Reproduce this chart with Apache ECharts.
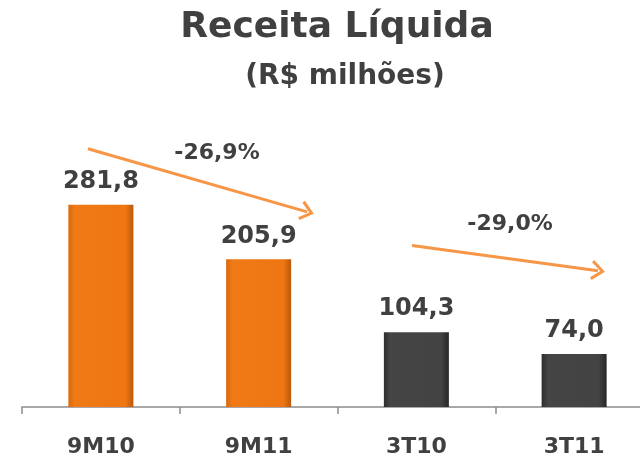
<!DOCTYPE html>
<html><head><meta charset="utf-8">
<script src="https://cdn.jsdelivr.net/npm/echarts@6/dist/echarts.min.js"></script>
<style>html,body{margin:0;padding:0;background:#fff;overflow:hidden}#c{width:660px;height:461px}</style>
</head><body><div id="c"></div>
<script>
var categories = ['9M10', '9M11', '3T10', '3T11'];
var values = [281.8, 205.9, 104.3, 74.0];
var valueLabels = ['281,8', '205,9', '104,3', '74,0'];
var barKinds = ['orange', 'orange', 'dark', 'dark'];
// change annotations: [startX, startY, endX, endY] in data units (x = category index)
var arrow1 = [-0.082, 360, 1.307, 272];
var arrow2 = [1.972, 225, 3.151, 190];
var changeLabels = ['-26,9%', '-29,0%'];
var changeLabelPos = [[0.736, 354], [2.594, 255]];

var FONT = 'DejaVu Sans';
var TXT = '#404040';

function grad(kind) {
  if (kind === 'orange') {
    return new echarts.graphic.LinearGradient(0, 0, 1, 0, [
      {offset: 0, color: '#d9680c'}, {offset: 0.1, color: '#f07a16'},
      {offset: 0.88, color: '#ef7612'}, {offset: 1, color: '#b85a0a'}]);
  }
  return new echarts.graphic.LinearGradient(0, 0, 1, 0, [
    {offset: 0, color: '#2e2e2e'}, {offset: 0.1, color: '#454545'},
    {offset: 0.88, color: '#434343'}, {offset: 1, color: '#262626'}]);
}

var arrowPath = 'path://M0,0 L10,13 L7.5,15 L0,5 L-7.5,15 L-10,13 Z';

function arrowLine(a) {
  return [{coord: [a[0], a[1]], symbol: 'none'}, {coord: [a[2], a[3]], symbol: arrowPath}];
}

var chart = echarts.init(document.getElementById('c'), null, {renderer: 'canvas'});
chart.setOption({
  animation: false,
  backgroundColor: '#fff',
  title: [
    {text: 'Receita Líquida', left: 332, top: 5, textAlign: 'center',
     textStyle: {fontFamily: FONT, fontSize: 36, fontWeight: 'bold', color: TXT}},
    {text: '(R$ milhões)', left: 340, top: 58, textAlign: 'center',
     textStyle: {fontFamily: FONT, fontSize: 28, fontWeight: 'bold', color: TXT}}
  ],
  grid: {left: 22, width: 631, top: 100, bottom: 54, containLabel: false},
  xAxis: [
    {type: 'category', data: categories,
     axisLine: {lineStyle: {color: '#8c8c8c', width: 1.5}},
     axisTick: {show: true, length: 7, lineStyle: {color: '#8c8c8c', width: 1.5}},
     axisLabel: {margin: 29, fontFamily: FONT, fontSize: 22, fontWeight: 'bold', color: TXT}},
    {type: 'value', min: -0.5, max: 3.5, show: false}
  ],
  yAxis: {type: 'value', min: 0, max: 428, show: false, splitLine: {show: false}},
  series: [
    {type: 'bar', xAxisIndex: 0, barWidth: 65,
     data: values.map(function (v, i) {
       return {value: v, itemStyle: {color: grad(barKinds[i])}};
     }),
     label: {show: true, position: 'top', distance: 11,
       formatter: function (p) { return valueLabels[p.dataIndex]; },
       fontFamily: FONT, fontSize: 24, fontWeight: 'bold', color: TXT}},
    {type: 'scatter', xAxisIndex: 1, symbolSize: 0,
     itemStyle: {opacity: 1},
     data: changeLabelPos.map(function (p, i) { return {value: p, name: changeLabels[i]}; }),
     label: {show: true, position: 'inside', formatter: '{b}',
       fontFamily: FONT, fontSize: 22, fontWeight: 'bold', color: TXT},
     markLine: {silent: true, symbolSize: [20, 14],
       lineStyle: {color: '#f79646', width: 3, type: 'solid'},
       label: {show: false},
       data: [arrowLine(arrow1), arrowLine(arrow2)]}}
  ]
});
</script></body></html>
